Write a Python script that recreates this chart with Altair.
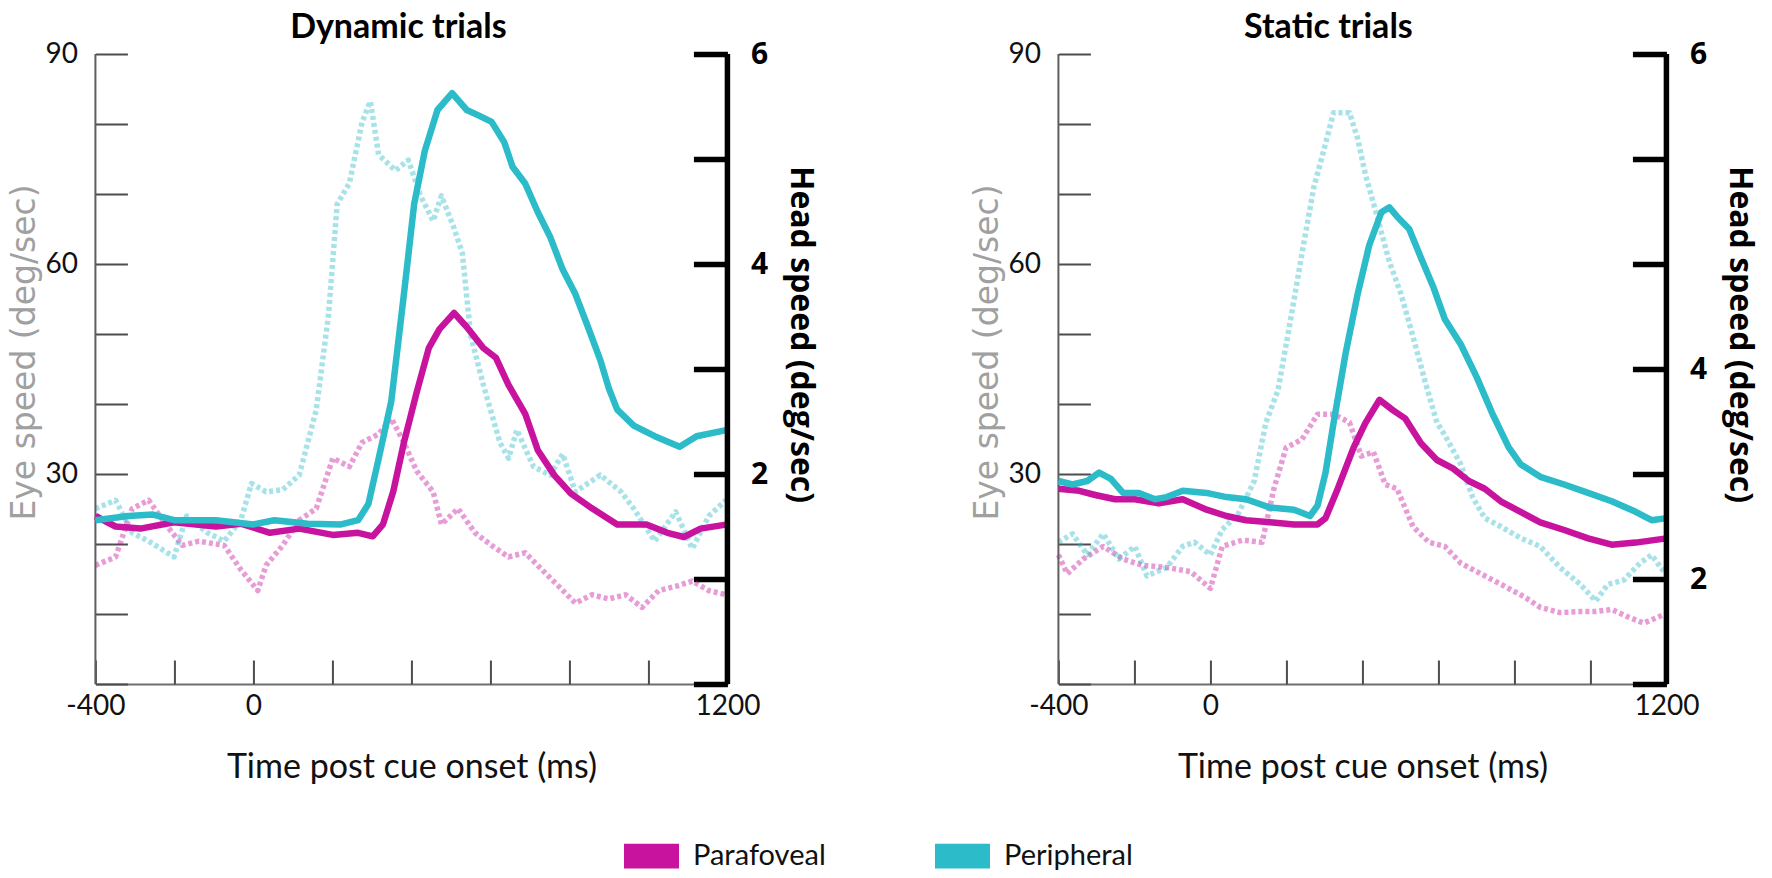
import altair as alt
import pandas as pd

# ---------------- data ----------------
GROUPS = ["Parafoveal", "Peripheral"]
COLORS = ["#C8139F", "#2BBBC9"]

# Dynamic trials: eye speed (deg/sec)
dyn_eye_para_t = [-400, -349, -286, -201, -95, -32, 42, 116, 201, 265, 302, 328, 354, 381, 413, 444, 471, 508,
                  540, 582, 614, 646, 688, 720, 762, 804, 857, 921, 995, 1048, 1090, 1132, 1200]
dyn_eye_para_v = [24, 22.5, 22.2, 23.1, 22.5, 22.9, 21.6, 22.2, 21.3, 21.6, 21.1, 22.8, 27.5, 34.5, 41.6, 48, 50.7,
                  53, 51, 48, 46.6, 42.7, 38.6, 33.4, 29.8, 27.2, 25.1, 22.8, 22.8, 21.6, 21, 22.2, 22.8]
dyn_eye_per_t = [-400, -317, -254, -201, -95, 0, 53, 138, 222, 265, 291, 317, 349, 381, 407, 434, 466, 503, 540,
                 571, 603, 635, 656, 688, 720, 751, 783, 815, 847, 878, 900, 921, 963, 1016, 1079, 1122, 1200]
dyn_eye_per_v = [23.4, 24, 24.2, 23.4, 23.4, 22.8, 23.4, 22.9, 22.8, 23.4, 25.7, 32.2, 40.4, 55.7, 68.6, 76.2, 82,
                 84.4, 82, 81.2, 80.3, 77.4, 73.9, 71.5, 67.4, 63.9, 59.2, 55.7, 51, 46.3, 42.2, 39.2, 36.9, 35.4,
                 33.9, 35.4, 36.3]

# Dynamic trials: head speed (deg/sec)
dyn_head_para_t = [-400, -349, -307, -265, -222, -180, -138, -74, -32, 11, 32, 74, 116, 159, 201, 243, 275, 317,
                   349, 381, 413, 455, 476, 518, 561, 603, 646, 688, 730, 773, 815, 857, 899, 942, 984, 1026, 1069,
                   1111, 1153, 1196]
dyn_head_para_v = [1.13, 1.21, 1.67, 1.75, 1.52, 1.32, 1.36, 1.32, 1.09, 0.89, 1.13, 1.32, 1.56, 1.67, 2.15, 2.07,
                   2.3, 2.38, 2.53, 2.3, 2.03, 1.83, 1.52, 1.67, 1.44, 1.32, 1.21, 1.25, 1.09, 0.93, 0.77, 0.85,
                   0.81, 0.85, 0.73, 0.89, 0.93, 0.98, 0.89, 0.85]
dyn_head_per_t = [-400, -349, -307, -265, -201, -169, -116, -74, -32, -5, 32, 74, 116, 159, 190, 212, 243, 275,
                  296, 317, 360, 392, 423, 455, 476, 508, 529, 550, 582, 624, 646, 667, 709, 751, 783, 815, 878,
                  931, 963, 1016, 1069, 1111, 1153, 1196]
dyn_head_per_v = [1.67, 1.75, 1.44, 1.36, 1.21, 1.6, 1.44, 1.36, 1.56, 1.91, 1.83, 1.85, 1.99, 2.61, 3.51, 4.57,
                  4.77, 5.35, 5.55, 5.04, 4.89, 4.99, 4.65, 4.41, 4.65, 4.34, 4.1, 3.32, 2.85, 2.3, 2.15, 2.42,
                  2.07, 1.99, 2.19, 1.83, 1.99, 1.83, 1.67, 1.36, 1.64, 1.29, 1.6, 1.75]

# Static trials: eye speed (deg/sec)
stat_eye_para_t = [-400, -345, -303, -251, -199, -136, -73, -10, 42, 94, 157, 220, 282, 303, 335, 377, 408, 445,
                   481, 513, 554, 596, 638, 680, 722, 764, 805, 868, 931, 994, 1056, 1119, 1200]
stat_eye_para_v = [27.9, 27.6, 27, 26.4, 26.4, 25.8, 26.4, 24.9, 24, 23.4, 23.1, 22.8, 22.8, 23.7, 27.9, 33.8,
                   37.3, 40.6, 39.1, 37.9, 34.4, 32, 30.8, 29, 27.9, 26.1, 24.9, 23.1, 22, 20.8, 19.9, 20.2, 20.8]
stat_eye_per_t = [-400, -363, -324, -293, -262, -230, -188, -146, -115, -73, -10, 42, 94, 157, 220, 262, 282, 303,
                  324, 356, 387, 418, 450, 471, 491, 523, 554, 586, 617, 659, 701, 743, 785, 816, 868, 931, 994,
                  1056, 1119, 1161, 1200]
stat_eye_per_v = [29, 28.5, 29, 30.2, 29.3, 27.3, 27.3, 26.4, 26.7, 27.6, 27.3, 26.7, 26.4, 25.2, 24.9, 24, 25.5,
                  30.2, 37.3, 47.3, 55.6, 62.7, 67.4, 68.1, 66.8, 65, 60.9, 56.8, 52.1, 48.5, 43.8, 38.5, 33.8,
                  31.4, 29.6, 28.5, 27.3, 26.1, 24.6, 23.4, 23.7]

# Static trials: head speed (deg/sec)
stat_head_para_t = [-400, -377, -335, -282, -230, -178, -115, -52, 0, 31, 84, 136, 167, 199, 241, 282, 324, 366,
                    397, 429, 460, 491, 533, 575, 617, 659, 701, 743, 785, 826, 868, 920, 973, 1014, 1056, 1098,
                    1140, 1193]
stat_head_para_v = [2.23, 2.05, 2.19, 2.31, 2.19, 2.13, 2.11, 2.07, 1.91, 2.31, 2.37, 2.35, 2.86, 3.25, 3.33, 3.57,
                    3.57, 3.49, 3.17, 3.21, 2.9, 2.86, 2.5, 2.35, 2.31, 2.15, 2.07, 1.99, 1.91, 1.83, 1.73, 1.68,
                    1.69, 1.69, 1.71, 1.64, 1.58, 1.66]
stat_head_per_t = [-400, -363, -324, -282, -241, -199, -167, -115, -73, -42, 0, 31, 73, 115, 146, 178, 209, 241,
                   272, 293, 324, 366, 387, 408, 439, 471, 502, 533, 565, 596, 617, 659, 690, 722, 764, 816, 868,
                   920, 973, 1014, 1046, 1088, 1130, 1161, 1193]
stat_head_per_v = [2.35, 2.43, 2.23, 2.43, 2.19, 2.31, 2.03, 2.11, 2.31, 2.35, 2.23, 2.47, 2.62, 2.93, 3.49, 3.8,
                   4.43, 5.1, 5.73, 6.01, 6.44, 6.44, 6.2, 5.85, 5.45, 5.02, 4.71, 4.31, 3.88, 3.49, 3.37, 3.09,
                   2.78, 2.58, 2.5, 2.39, 2.31, 2.11, 1.95, 1.79, 1.95, 1.99, 2.15, 2.23, 2.07]

TIME_TICKS = list(range(-400, 1201, 200))
EYE_TICKS = list(range(0, 91, 10))
DYN_HEAD_TICKS = [0, 1, 2, 3, 4, 5, 6]
STAT_HEAD_TICKS = [1, 2, 3, 4, 5, 6, 7]

PLOT_H = 630


# ---------------- helpers ----------------
def long(tp, vp, tq, vq):
    return pd.concat([
        pd.DataFrame({"time": tp, "value": vp, "group": GROUPS[0]}),
        pd.DataFrame({"time": tq, "value": vq, "group": GROUPS[1]}),
    ], ignore_index=True)


color_scale = alt.Scale(domain=GROUPS, range=COLORS)


def tscale():
    return alt.Scale(domain=[-400, 1200], nice=False, zero=False)


def panel(eye_df, head_df, title, title_dx, width, head_domain, head_ticks, head_label_expr):
    # bottom frame line (domain only)
    frame_x_axis = alt.Axis(
        orient="bottom", offset=0, domain=True, domainColor="#6e6e6e", domainWidth=2,
        ticks=False, labels=False, grid=False,
    )
    # inward ticks + labels + title
    x_axis = alt.Axis(
        orient="bottom", values=TIME_TICKS,
        labelExpr="indexof([-400, 0, 1200], datum.value) >= 0 ? '' + datum.value : ''",
        offset=-24, tickSize=24, tickColor="#4d4d4d", tickWidth=2, domain=False, grid=False,
        labelPadding=8, labelFlush=False, labelFont="Lato", labelFontSize=28, labelColor="#111",
        titleFont="Lato", titleFontSize=34, titleFontWeight="normal", titleColor="#111", titlePadding=30,
    )
    eye_axis = alt.Axis(
        orient="left", values=EYE_TICKS,
        labelExpr="datum.value > 0 && datum.value % 30 == 0 ? datum.label : ''",
        offset=-32, tickSize=32, tickColor="#4d4d4d", tickWidth=2, domain=False, grid=False,
        labelPadding=18, labelFont="Lato", labelFontSize=28, labelColor="#111",
        titleFont="DejaVu Sans", titleFontSize=33, titleFontWeight="normal", titleColor="#a0a0a0",
        titlePadding=3, titleY=298,
    )
    head_axis = alt.Axis(
        orient="right", values=head_ticks, labelExpr=head_label_expr,
        offset=-34, tickSize=34, tickColor="black", tickWidth=5.5, domain=False, grid=False,
        labelPadding=23, labelFont="Open Sans", labelFontSize=30, labelFontWeight="bold", labelColor="black",
        titleFont="Open Sans", titleFontSize=32, titleFontWeight="bold", titleColor="black",
        titleAngle=90, titlePadding=16, titleY=280,
    )

    head_lines = alt.Chart(head_df).mark_line(
        strokeWidth=5.5, strokeDash=[4, 3], strokeOpacity=0.42, strokeJoin="round"
    ).encode(
        x=alt.X("time:Q", scale=tscale(), axis=frame_x_axis, title=None),
        y=alt.Y("value:Q", scale=alt.Scale(domain=head_domain, nice=False, zero=False),
                axis=head_axis, title="Head speed (deg/sec)"),
        stroke=alt.Stroke("group:N", scale=color_scale, legend=None),
    )

    left_rule = alt.Chart(pd.DataFrame({"time": [-400]})).mark_rule(
        color="#5e5e5e", strokeWidth=2).encode(x=alt.X("time:Q", scale=tscale(), axis=None))
    right_rule = alt.Chart(pd.DataFrame({"time": [1200]})).mark_rule(
        color="black", strokeWidth=5.5).encode(x=alt.X("time:Q", scale=tscale(), axis=None))

    eye_lines = alt.Chart(eye_df).mark_line(strokeWidth=6.5, strokeJoin="round").encode(
        x=alt.X("time:Q", scale=tscale(), axis=x_axis, title="Time post cue onset (ms)"),
        y=alt.Y("value:Q", scale=alt.Scale(domain=[0, 90], nice=False, zero=False),
                axis=eye_axis, title="Eye speed (deg/sec)"),
        color=alt.Color("group:N", scale=color_scale, legend=None),
    )

    return alt.layer(head_lines, left_rule, eye_lines, right_rule).resolve_scale(
        x="independent", y="independent"
    ).properties(
        width=width, height=PLOT_H,
        title=alt.Title(title, font="Lato", fontSize=34, fontWeight="bold", color="black",
                        anchor="middle", offset=-6, dx=title_dx),
    )


dyn = panel(
    long(dyn_eye_para_t, dyn_eye_para_v, dyn_eye_per_t, dyn_eye_per_v),
    long(dyn_head_para_t, dyn_head_para_v, dyn_head_per_t, dyn_head_per_v),
    "Dynamic trials", -13, 632, [0, 6], DYN_HEAD_TICKS,
    "indexof([2, 4, 6], datum.value) >= 0 ? datum.label : ''",
)
stat = panel(
    long(stat_eye_para_t, stat_eye_para_v, stat_eye_per_t, stat_eye_per_v),
    long(stat_head_para_t, stat_head_para_v, stat_head_per_t, stat_head_per_v),
    "Static trials", -34, 608, [1, 7], STAT_HEAD_TICKS,
    "datum.value == 7 ? '6' : (indexof([2, 4], datum.value) >= 0 ? datum.label : '')",
)

# ---------------- legend (one swatch + label per group) ----------------
legend_df = pd.DataFrame({"group": GROUPS})
legend_x = alt.X("group:N", scale=alt.Scale(domain=GROUPS, type="point", range=[0, 311], padding=0),
                 axis=None)
swatches = alt.Chart(legend_df).mark_point(
    shape="M-1,-0.45L1,-0.45L1,0.45L-1,0.45Z", size=3025, filled=True, opacity=1, strokeWidth=0
).encode(x=legend_x, color=alt.Color("group:N", scale=color_scale, legend=None))
swatch_labels = alt.Chart(legend_df).mark_text(
    align="left", baseline="middle", dx=41.5, font="Lato", fontSize=29, color="#111"
).encode(x=legend_x, text="group:N")
legend_chart = alt.layer(swatches, swatch_labels).properties(width=548, height=24)

top = alt.hconcat(dyn, stat, spacing=154)
chart = alt.vconcat(top, legend_chart, spacing=58, center=True).properties(
    padding={"left": 0, "top": 3, "right": 0, "bottom": 0}, background="white"
).configure_view(stroke=None)

chart.save("out.html", embed_options={"renderer": "svg", "actions": False})
